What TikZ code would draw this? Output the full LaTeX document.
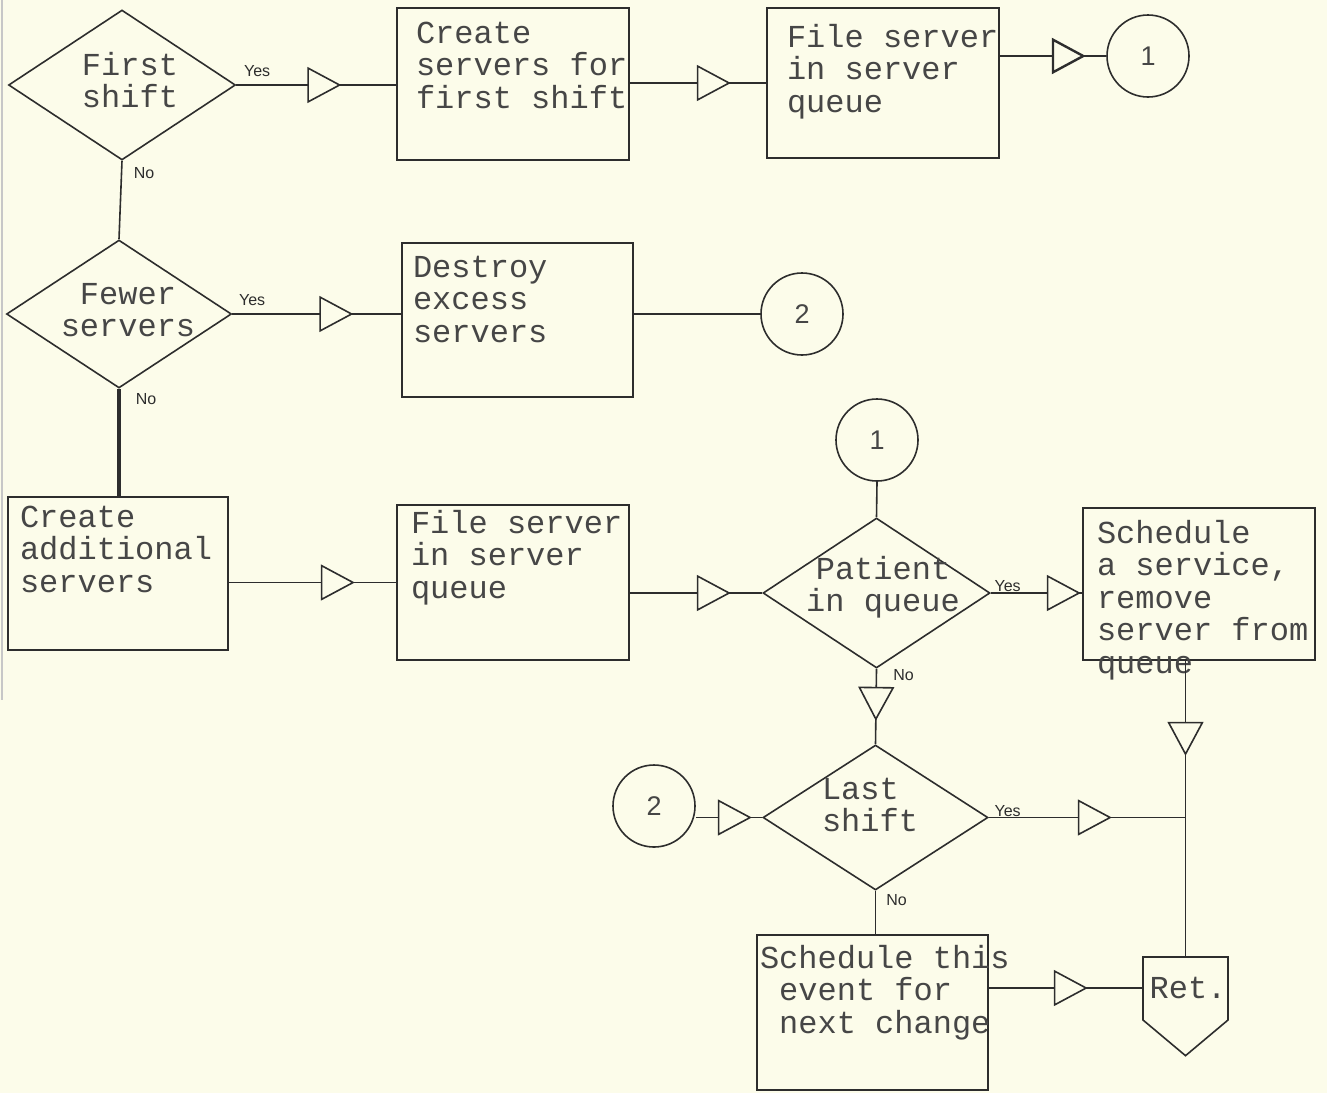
\documentclass[tikz,border=0pt]{standalone}
\usepackage{fontspec}
\setmonofont{Liberation Mono}
\setsansfont{Liberation Sans}
\usetikzlibrary{positioning,shapes.geometric,shapes.symbols,arrows.meta,decorations.markings}
\definecolor{paper}{RGB}{252,252,234}
\definecolor{ink}{RGB}{45,45,45}
\definecolor{type}{RGB}{70,70,70}
\begin{document}
\begin{tikzpicture}[x=1pt,y=-1pt,line width=1.6pt,draw=ink,text=type,
  box/.style 2 args={draw,rectangle,inner sep=0,minimum width=#1,minimum height=#2},
  dec/.style 2 args={draw,diamond,inner sep=0,minimum width=#1,minimum height=#2},
  conn/.style={draw,circle,inner sep=0,minimum size=82pt,font=\sffamily\fontsize{27}{27}\selectfont},
  txt/.style={inner sep=0,align=left,font=\ttfamily\fontsize{32}{32.5}\selectfont},
  yn/.style={inner sep=0,text=ink,font=\sffamily\fontsize{16}{16}\selectfont},
  flow/.style={decoration={markings,mark=at position #1 with {\arrow{Triangle[length=34pt,width=36pt,fill=paper]}}},postaction={decorate}}]
  \fill[paper] (0,0) rectangle (1327,1093);
  \useasboundingbox (0,0) rectangle (1327,1093);
  \draw[black!22,line width=1.5pt] (2,0) -- (2,700);

  % top row
  \node[dec={227}{150}] (fs) at (122,85) {};
  \node[txt,align=center] (fst) at (130,80) {First\\shift};
  \node[box={232}{152}] (cfs) at (513,84) {};
  \node[txt,below right=14pt and 19pt of cfs.north west] (cfst) {Create\\servers for\\first shift};
  \node[box={232}{150}] (fsq1) at (883,83) {};
  \node[txt,below right=16pt and 20pt of fsq1.north west] (fsq1t) {File server\\in server\\queue};
  \node[conn] (c1a) at (1148,56) {1};

  % second row
  \node[dec={225}{148}] (fwr) at (119,314) {};
  \node[txt,align=center] (fwrt) at (128,310) {Fewer\\servers};
  \node[box={231}{154}] (des) at (517.5,320) {};
  \node[txt,below right=13pt and 11pt of des.north west] (dest) {Destroy\\excess\\servers};
  \node[conn] (c2a) at (802,314) {2};

  % third row
  \node[box={220}{153}] (cas) at (118,573.5) {};
  \node[txt,below right=9pt and 12pt of cas.north west] (cast) {Create\\additional\\servers};
  \node[box={232}{155}] (fsq2) at (513,582.5) {};
  \node[txt,below right=5pt and 14pt of fsq2.north west] (fsq2t) {File server\\in server\\queue};
  \node[conn] (c1b) at (877,440) {1};
  \node[dec={227}{150}] (piq) at (876.5,593) {};
  \node[txt,align=center] (piqt) at (883,587) {Patient\\in queue};
  \node[box={232}{152}] (sas) at (1199,584) {};
  \node[txt,below right=12pt and 14pt of sas.north west] (sast) {Schedule\\a service,\\remove\\server from\\queue};

  % bottom
  \node[conn] (c2b) at (654,806) {2};
  \node[dec={225}{145}] (ls) at (875.5,817.5) {};
  \node[txt] (lst) at (870,805) {Last\\shift};
  \node[box={231}{155}] (sen) at (872.5,1012.5) {};
  \node[txt,below right=10pt and 3pt of sen.north west] (sent) {Schedule this\\\hphantom{e}event for\\\hphantom{e}next change};
  \node[draw,signal,signal to=south,signal pointer angle=100,inner sep=0,minimum width=85pt,minimum height=63pt] (ret) at (1185.5,988.5) {};
  \node[txt] (rett) at (1188,988) {Ret.};

  % connectors
  \draw[flow=105pt] (fs.east) -- (fs.east -| cfs.west);
  \draw[flow=101pt] (cfs.east |- fsq1.west) -- (fsq1.west);
  \draw[flow=86pt,line width=2.4pt] (fsq1.east |- c1a) -- (c1a.west);
  \draw (fs.south) -- (fwr.north);
  \draw[flow=121pt] (fwr.east) -- (fwr.east -| des.west);
  \draw (des.east |- c2a) -- (c2a.west);
  \draw[line width=3.8pt] (fwr.south) -- (fwr.south |- cas.north);
  \draw[flow=126pt] (cas.east |- fsq2.west) -- (fsq2.west);
  \draw[flow=101pt] (fsq2.east |- piq.west) -- (piq.west);
  \draw (c1b.south) -- (piq.north);
  \draw[flow=90pt] (piq.east) -- (piq.east -| sas.west);
  \draw[flow=52pt] (piq.south) -- (ls.north);
  \draw[flow=56pt] (ls.west -| c2b.east) -- (ls.west);
  \coordinate (jn) at (ret.north |- ls.east);
  \draw[flow=123pt] (ls.east) -- (jn);
  \draw[flow=95pt] (ret.north |- sas.south) -- (ret.north);
  \draw (ls.south) -- (ls.south |- sen.north);
  \draw[flow=99pt] (sen.east |- rett) -- (rett -| ret.west);

  % branch labels
  \node[yn,above right=8pt and 7pt of fs.east] (fsy) {Yes};
  \node[yn,below right=6pt and 11pt of fs.south] (fsn) {No};
  \node[yn,above right=8pt and 6pt of fwr.east] (fwry) {Yes};
  \node[yn,below right=4pt and 16pt of fwr.south] (fwrn) {No};
  \node[yn,above right=1pt and 3pt of piq.east] (piqy) {Yes};
  \node[yn,below right=0pt and 16pt of piq.south] (piqn) {No};
  \node[yn,above right=0pt and 5pt of ls.east] (lsy) {Yes};
  \node[yn,below right=3pt and 10pt of ls.south] (lsn) {No};
\end{tikzpicture}
\end{document}
